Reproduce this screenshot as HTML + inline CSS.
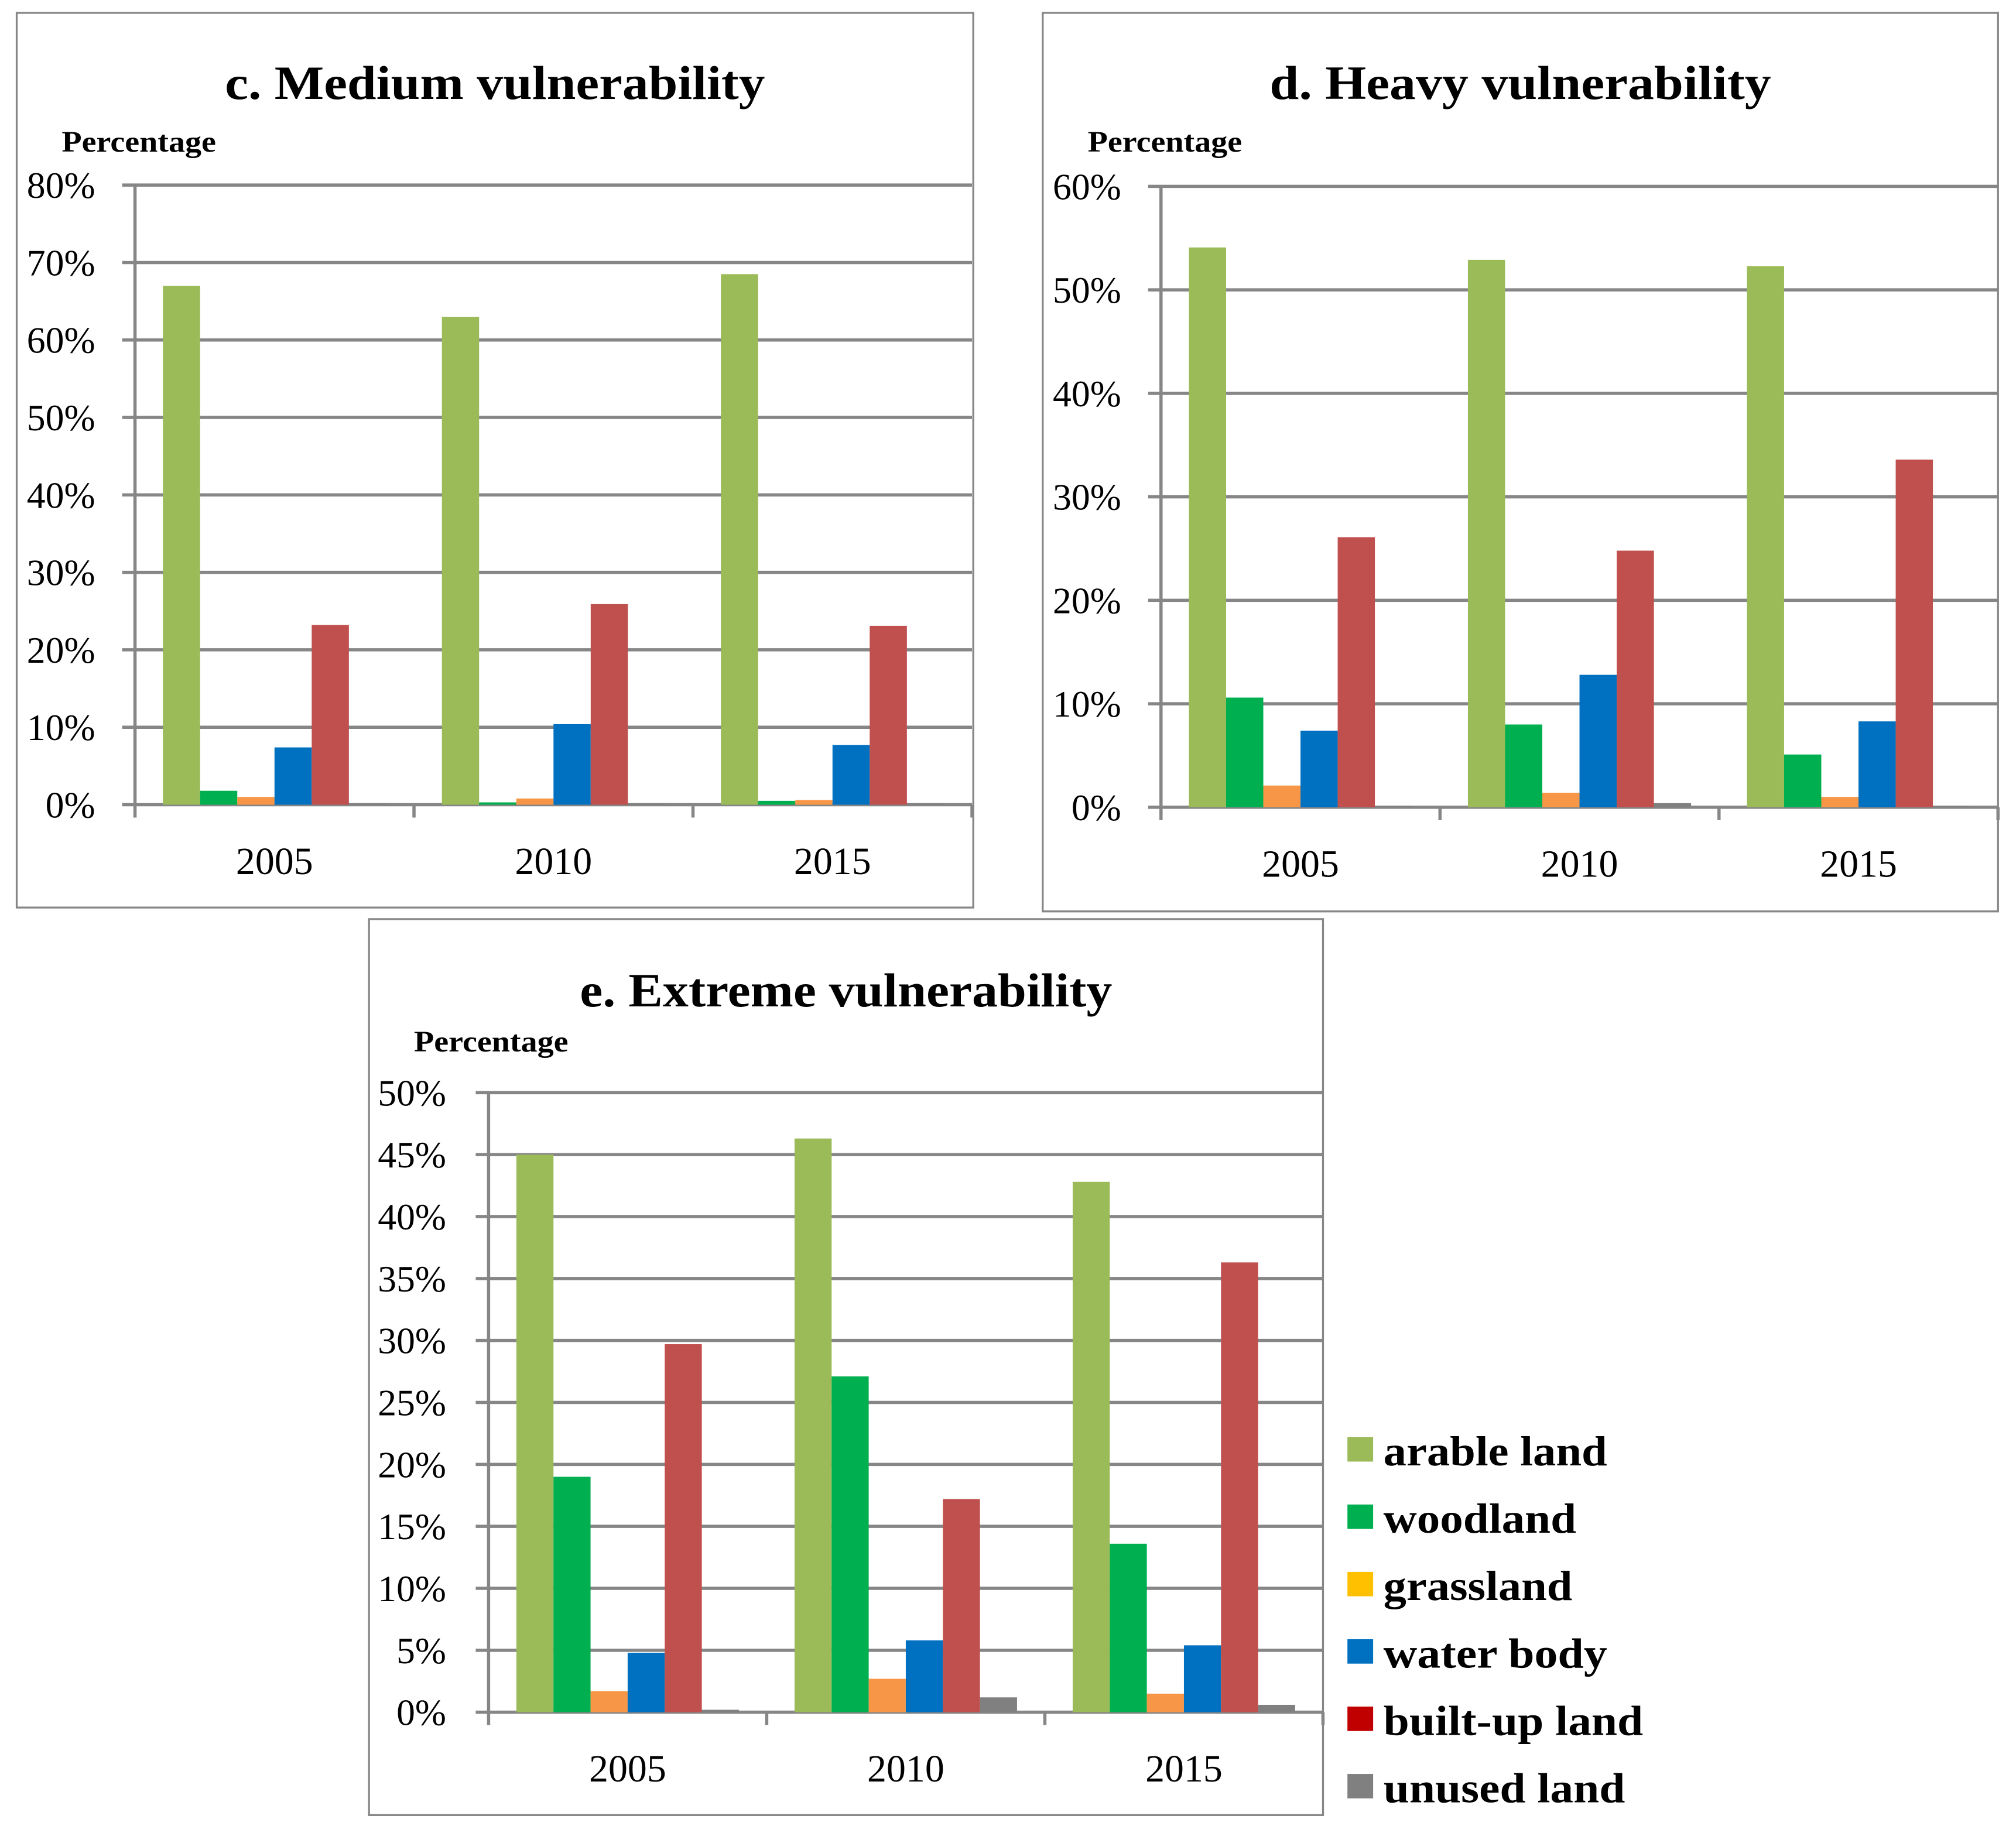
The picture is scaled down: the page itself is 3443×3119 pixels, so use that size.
<!DOCTYPE html>
<html><head><meta charset="utf-8"><style>
html,body{margin:0;padding:0;background:#fff}
svg{display:block}
text{font-family:"Liberation Serif",serif}
</style></head><body>
<svg id="s" width="3443" height="3119" viewBox="0 0 1568 1420.5" preserveAspectRatio="none" xmlns="http://www.w3.org/2000/svg"></svg>
<script>
const categories=["2005","2010","2015"];
const seriesNames=["arable land","woodland","grassland","water body","built-up land","unused land"];
const barColors=["#9BBB59","#00B050","#F79646","#0070C0","#C0504D","#808080"];
const legendColors=["#9BBB59","#00B050","#FFC000","#0070C0","#C00000","#808080"];
const legendWidths=[174,150,147,174,202,188];
const cArable=[67.0,63.0,68.5],cWood=[1.8,0.3,0.5],cGrass=[1.0,0.8,0.6],cWater=[7.4,10.4,7.7],cBuilt=[23.2,25.9,23.1],cUnused=[0,0,0];
const dArable=[54.1,52.9,52.3],dWood=[10.6,8.0,5.1],dGrass=[2.1,1.4,1.0],dWater=[7.4,12.8,8.3],dBuilt=[26.1,24.8,33.6],dUnused=[0.1,0.4,0.1];
const eArable=[45.0,46.3,42.8],eWood=[19.0,27.1,13.6],eGrass=[1.7,2.7,1.5],eWater=[4.8,5.8,5.4],eBuilt=[29.7,17.2,36.3],eUnused=[0.2,1.2,0.6];
const cTicks=[0,10,20,30,40,50,60,70,80];
const dTicks=[0,10,20,30,40,50,60];
const eTicks=[0,5,10,15,20,25,30,35,40,45,50];

const NS="http://www.w3.org/2000/svg";
const svg=document.getElementById('s');
function mk(tag,attrs,parent){const e=document.createElementNS(NS,tag);for(const k in attrs)e.setAttribute(k,attrs[k]);(parent||svg).appendChild(e);return e;}

function panel(name,box,title,titleW,titleY,pctX,pctY,x0,x1,yTop,yBot,ticks,series,labelX,yearY){
  const g=mk('g',{});
  
  
  const r=mk('rect',{x:box[0],y:box[1],width:box[2]-box[0],height:box[3]-box[1],fill:'#fff',stroke:'#868686','stroke-width':1.5},g);
  
  
  const t=mk('text',{x:(box[0]+box[2])/2-titleW/2,y:titleY,'font-size':37,'font-weight':'bold',textLength:titleW,lengthAdjust:'spacingAndGlyphs'},g);
  t.textContent=title;
  
  
  const p=mk('text',{x:pctX,y:pctY,'font-size':23,'font-weight':'bold',textLength:120,lengthAdjust:'spacingAndGlyphs'},g);
  p.textContent="Percentage";
  
  
  const maxV=ticks[ticks.length-1];
  const yS=v=>yBot-(v/maxV)*(yBot-yTop);
  ticks.forEach(tv=>{
    const y=yS(tv);
    const l=mk('line',{x1:x0-10,x2:x1,y1:y,y2:y,stroke:'#868686','stroke-width':2.5},g);
    
    
    const tx=mk('text',{x:labelX,y:y+10,'text-anchor':'end','font-size':29},g);
    tx.textContent=tv+'%';
    
    
  });
  const ax=mk('line',{x1:x0,x2:x0,y1:yTop,y2:yBot+10,stroke:'#868686','stroke-width':2.5},g);
  
  
  const cw=(x1-x0)/categories.length;
  const bw=cw/7.5;
  categories.forEach((c,i)=>{
    const tk=mk('line',{x1:x0+cw*(i+1),x2:x0+cw*(i+1),y1:yBot,y2:yBot+10,stroke:'#868686','stroke-width':2.5},g);
    
    
    const yl=mk('text',{x:x0+cw*(i+0.5),y:yearY,'text-anchor':'middle','font-size':30},g);
    yl.textContent=c;
    
    
    series.forEach((s,j)=>{
      const v=s[i];
      const bx=x0+cw*i+bw*0.75+bw*j;
      const h=Math.max(yBot-yS(v),0.8);
      const b=mk('rect',{x:bx,y:yBot-h,width:bw,height:h,fill:barColors[j]},g);
      
      
    });
  });
}
panel('chart-medium',[13,10,757,706],'c. Medium vulnerability',420,77,48,118,105,756,144,626,cTicks,[cArable,cWood,cGrass,cWater,cBuilt,cUnused],74,680);
panel('chart-heavy',[811,10,1554,709],'d. Heavy vulnerability',390,77,846,118,903,1554,145,628,dTicks,[dArable,dWood,dGrass,dWater,dBuilt,dUnused],872,682);
panel('chart-extreme',[287,715,1029,1412],'e. Extreme vulnerability',414,783,322,818,380,1029,850,1332,eTicks,[eArable,eWood,eGrass,eWater,eBuilt,eUnused],347,1386);

const lg=mk('g',{});


seriesNames.forEach((n,i)=>{
  const y=1140+i*52.4;
  const sq=mk('rect',{x:1048,y:y-22,width:20,height:19,fill:legendColors[i]},lg);
  
  
  const tx=mk('text',{x:1076,y:y,'font-size':33,'font-weight':'bold',textLength:legendWidths[i],lengthAdjust:'spacingAndGlyphs'},lg);
  tx.textContent=n;
  
  
});
</script>
</body></html>
